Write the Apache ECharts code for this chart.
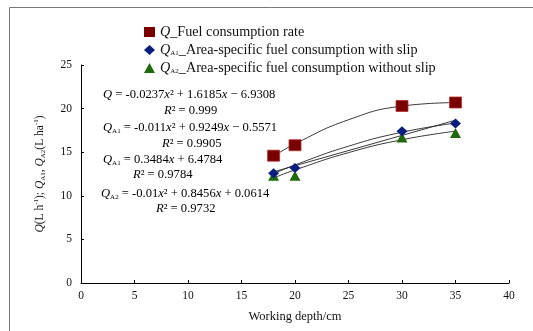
<!DOCTYPE html>
<html><head><meta charset="utf-8">
<script src="https://cdn.jsdelivr.net/npm/echarts@6/dist/echarts.min.js"></script>
<style>html,body{margin:0;padding:0;background:#fff}#c{width:533px;height:331px}</style>
</head><body><div id="c"></div>
<script>
const depth = [18, 20, 30, 35];
const qRate = [14.6, 15.8, 20.3, 20.7];
const qA1 = [12.6, 13.2, 17.4, 18.3];
const qA2 = [12.3, 12.3, 16.7, 17.2];
// trend curves
const trendX = [18, 20, 25, 30, 35];
const trendQ = [14.52, 15.96, 18.72, 20.29, 20.69];
const trendA1q = [12.53, 13.54, 15.69, 17.29, 18.34];
const trendA1lX = [18, 35];
const trendA1l = [12.75, 18.67];
const trendA2q = [12.04, 12.97, 14.95, 16.43, 17.41];
const xTicks = [0, 5, 10, 15, 20, 25, 30, 35, 40];
const yTicks = [0, 5, 10, 15, 20, 25];

const serif = '"Liberation Serif","DejaVu Serif",serif';
const pair = (xs, ys) => xs.map((x, i) => [x, ys[i]]);
const chart = echarts.init(document.getElementById('c'), null, {renderer: 'canvas'});

function mkRich(fs) {
  return {
    i: {fontFamily: serif, fontStyle: 'italic', fontSize: fs, color: '#111', lineHeight: 14, verticalAlign: 'middle'},
    n: {fontFamily: serif, fontSize: fs, color: '#111', lineHeight: 14, verticalAlign: 'middle'},
    s: {fontFamily: serif, fontSize: 7, color: '#111', lineHeight: 7, verticalAlign: 'bottom'},
    sup: {fontFamily: serif, fontSize: 7, color: '#111', lineHeight: 7, verticalAlign: 'top'}
  };
}
const eqRich = mkRich(12.6);
function eq(text, x, y) {
  return {type: 'text', left: x, top: y - 7, style: {text: text, rich: eqRich}};
}

const legendNames = ['Q', 'QA1', 'QA2'];
const legendLabels = {
  Q: '{i|Q}{n|_Fuel consumption rate}',
  QA1: '{i|Q}{s|A1}{n|_Area-specific fuel consumption with slip}',
  QA2: '{i|Q}{s|A2}{n|_Area-specific fuel consumption without slip}'
};

const trendStyle = {color: '#222', width: 0.9};
chart.setOption({
  animation: false,
  backgroundColor: '#fff',
  grid: {left: 81, right: 24, top: 65, bottom: 48},
  legend: {
    data: legendNames.map(n => ({name: n})),
    orient: 'vertical', left: 139, top: 20, itemGap: 4,
    itemWidth: 11, itemHeight: 10, itemStyle: {borderWidth: 0},
    formatter: n => legendLabels[n],
    textStyle: {rich: mkRich(14.2), fontFamily: serif, fontSize: 14.2, color: '#111'}
  },
  xAxis: {
    type: 'value', min: 0, max: 40, interval: 5,
    name: 'Working depth/cm', nameLocation: 'middle', nameGap: 27,
    nameTextStyle: {fontFamily: serif, fontSize: 12.5, color: '#111'},
    axisLine: {lineStyle: {color: '#000', width: 1}},
    axisTick: {inside: true, length: 3, lineStyle: {color: '#000'}},
    axisLabel: {fontFamily: serif, fontSize: 11.5, color: '#111', margin: 7},
    splitLine: {show: false}
  },
  yAxis: {
    type: 'value', min: 0, max: 25, interval: 5,
    name: '{i|Q}{n|(L h}{sup|-1}{n|); }{i|Q}{s|A1}{n|, }{i|Q}{s|A2}{n|(L ha}{sup|-1}{n|)}',
    nameLocation: 'middle', nameGap: 34, nameRotate: 90,
    nameTextStyle: {rich: mkRich(11.5)},
    axisLine: {show: true, lineStyle: {color: '#000', width: 1}},
    axisTick: {show: true, inside: true, length: 3, lineStyle: {color: '#000'}},
    axisLabel: {fontFamily: serif, fontSize: 11.5, color: '#111', margin: 9},
    splitLine: {show: false}
  },
  series: [
    {type: 'line', data: pair(trendX, trendQ), smooth: true, symbol: 'none', lineStyle: trendStyle, silent: true, z: 1},
    {type: 'line', data: pair(trendX, trendA1q), smooth: true, symbol: 'none', lineStyle: trendStyle, silent: true, z: 1},
    {type: 'line', data: pair(trendA1lX, trendA1l), symbol: 'none', lineStyle: trendStyle, silent: true, z: 1},
    {type: 'line', data: pair(trendX, trendA2q), smooth: true, symbol: 'none', lineStyle: trendStyle, silent: true, z: 1},
    {name: 'Q', type: 'scatter', data: pair(depth, qRate), symbol: 'rect', symbolSize: [12, 11],
      itemStyle: {color: '#7a0000', borderColor: '#b03030', borderWidth: 0.8, opacity: 1}, z: 3},
    {name: 'QA1', type: 'scatter', data: pair(depth, qA1), symbol: 'diamond', symbolSize: [11, 10],
      itemStyle: {color: '#0a1e80', opacity: 1}, z: 3},
    {name: 'QA2', type: 'scatter', data: pair(depth, qA2), symbol: 'triangle', symbolSize: [11, 10],
      itemStyle: {color: '#1e6a0a', opacity: 1}, z: 2}
  ],
  graphic: [
    {type: 'rect', shape: {x: 9.5, y: 7.5, width: 600, height: 400}, style: {fill: 'none', stroke: '#777', lineWidth: 1}, silent: true, z: -10},
    eq('{i|Q}{n| = -0.0237}{i|x}{n|² + 1.6185}{i|x}{n| − 6.9308}', 103, 95),
    eq('{i|R}{n|² = 0.999}', 164, 111),
    eq('{i|Q}{s|A1}{n| = -0.011}{i|x}{n|² + 0.9249}{i|x}{n| − 0.5571}', 103, 128),
    eq('{i|R}{n|² = 0.9905}', 162, 144),
    eq('{i|Q}{s|A1}{n| = 0.3484}{i|x}{n| + 6.4784}', 103, 160),
    eq('{i|R}{n|² = 0.9784}', 133, 175),
    eq('{i|Q}{s|A2}{n| = -0.01}{i|x}{n|² + 0.8456}{i|x}{n| + 0.0614}', 101, 194),
    eq('{i|R}{n|² = 0.9732}', 156, 209)
  ]
});
</script>
</body></html>
